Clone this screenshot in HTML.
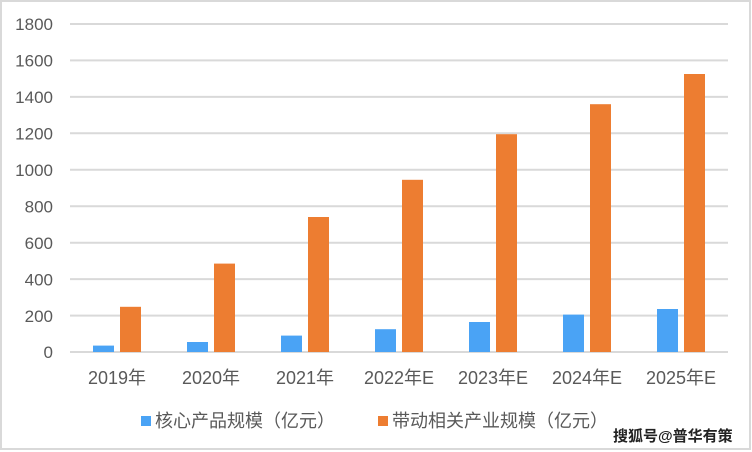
<!DOCTYPE html>
<html><head><meta charset="utf-8"><style>
html,body{margin:0;padding:0;background:#fff;}
svg{display:block;}
text{font-family:"Liberation Sans","Noto Sans CJK SC",sans-serif;fill:#595959;}
</style></head><body>
<svg width="752" height="452" viewBox="0 0 752 452">
<rect x="1" y="1" width="749" height="448" fill="#fff" stroke="#d9d9d9" stroke-width="2"/>
<g stroke="#d9d9d9" stroke-width="2">
<line x1="70" x2="728" y1="24" y2="24"/>
<line x1="70" x2="728" y1="60.4" y2="60.4"/>
<line x1="70" x2="728" y1="96.9" y2="96.9"/>
<line x1="70" x2="728" y1="133.3" y2="133.3"/>
<line x1="70" x2="728" y1="169.8" y2="169.8"/>
<line x1="70" x2="728" y1="206.2" y2="206.2"/>
<line x1="70" x2="728" y1="242.7" y2="242.7"/>
<line x1="70" x2="728" y1="279.1" y2="279.1"/>
<line x1="70" x2="728" y1="315.6" y2="315.6"/>
<line x1="70" x2="728" y1="352" y2="352"/>
</g>
<g font-size="17" text-anchor="end" textLength="37">
<text x="53" y="30">1800</text><text x="53" y="66.5">1600</text><text x="53" y="103">1400</text>
<text x="53" y="139.5">1200</text><text x="53" y="176">1000</text><text x="53" y="212.5">800</text>
<text x="53" y="249">600</text><text x="53" y="285.5">400</text><text x="53" y="322">200</text><text x="53" y="358">0</text>
</g>
<g fill="#4aa3f5">
<rect x="93" y="345.6" width="21" height="6.4"/>
<rect x="187" y="342" width="21" height="10"/>
<rect x="281" y="335.6" width="21" height="16.4"/>
<rect x="375" y="329.2" width="21" height="22.8"/>
<rect x="469" y="322" width="21" height="30"/>
<rect x="563" y="314.6" width="21" height="37.4"/>
<rect x="657" y="309" width="21" height="43"/>
</g>
<g fill="#ed7d31">
<rect x="120" y="306.8" width="21" height="45.2"/>
<rect x="214" y="263.6" width="21" height="88.4"/>
<rect x="308" y="217" width="21" height="135"/>
<rect x="402" y="179.8" width="21" height="172.2"/>
<rect x="496" y="134.2" width="21" height="217.8"/>
<rect x="590" y="104.2" width="21" height="247.8"/>
<rect x="684" y="74" width="21" height="278"/>
</g>
<g font-size="18" text-anchor="middle">
<text x="117" y="384">2019年</text><text x="211" y="384">2020年</text><text x="305" y="384">2021年</text>
<text x="399" y="384">2022年E</text><text x="493" y="384">2023年E</text><text x="587" y="384">2024年E</text><text x="681" y="384">2025年E</text>
</g>
<rect x="141" y="416" width="10" height="10" fill="#4aa3f5"/>
<text x="155" y="427" font-size="18">核心产品规模（亿元）</text>
<rect x="378" y="416" width="10" height="10" fill="#ed7d31"/>
<text x="392" y="427" font-size="18">带动相关产业规模（亿元）</text>
<text x="613" y="441" font-size="15" font-weight="bold" style="fill:#222">搜狐号@普华有策</text>
</svg>
</body></html>
